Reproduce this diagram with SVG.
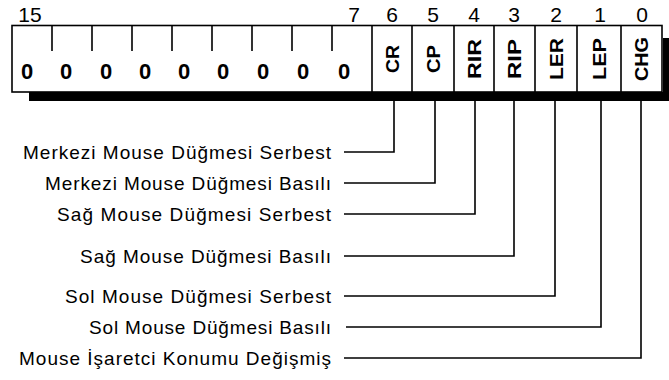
<svg xmlns="http://www.w3.org/2000/svg" width="669" height="380" viewBox="0 0 669 380">
  <style>
    .frame { fill: #fff; stroke: #000; stroke-width: 1.6; }
    .rule { stroke: #000; stroke-width: 1.6; fill: none; }
    .wire { stroke: #000; stroke-width: 1.6; fill: none; }
    .bitno { font-family: "Liberation Sans", Arial, sans-serif; font-size: 21px; fill: #000; text-anchor: middle; }
    .zero { font-family: "Liberation Sans", Arial, sans-serif; font-size: 22px; font-weight: bold; fill: #000; text-anchor: middle; }
    .flag { font-family: "Liberation Sans", Arial, sans-serif; font-size: 18px; font-weight: bold; fill: #000; text-anchor: middle; }
    .label { font-family: "Liberation Sans", Arial, sans-serif; font-size: 19px; fill: #000; text-anchor: end; }
  </style>

  <!-- register body with drop shadow -->
  <g id="register">
    <rect x="29" y="92" width="640" height="9" fill="#000"/>
    <rect x="663" y="38" width="6" height="63" fill="#000"/>
    <rect class="frame" x="12" y="25.5" width="650" height="66.5"/>
    <!-- bit ticks for the unused high bits -->
    <path class="rule" d="M52 25.5V51M92 25.5V51M132 25.5V51M172 25.5V51M212 25.5V51M252 25.5V51M292 25.5V51M332 25.5V51"/>
    <!-- flag cell dividers -->
    <path class="rule" d="M372 25.5V92M412 25.5V92M454 25.5V92M494 25.5V92M535 25.5V92M577 25.5V92M621 25.5V92"/>
  </g>

  <!-- bit numbers -->
  <g id="bit-numbers">
    <text class="bitno" x="30" y="22">15</text>
    <text class="bitno" x="354" y="22">7</text>
    <text class="bitno" x="392" y="22">6</text>
    <text class="bitno" x="433" y="22">5</text>
    <text class="bitno" x="474" y="22">4</text>
    <text class="bitno" x="514" y="22">3</text>
    <text class="bitno" x="556" y="22">2</text>
    <text class="bitno" x="600" y="22">1</text>
    <text class="bitno" x="642" y="22">0</text>
  </g>

  <!-- reserved bits, always zero -->
  <g id="reserved-bits">
    <text class="zero" x="27" y="79">0</text>
    <text class="zero" x="66" y="79">0</text>
    <text class="zero" x="106" y="79">0</text>
    <text class="zero" x="145" y="79">0</text>
    <text class="zero" x="184" y="79">0</text>
    <text class="zero" x="223" y="79">0</text>
    <text class="zero" x="263" y="79">0</text>
    <text class="zero" x="303" y="79">0</text>
    <text class="zero" x="344" y="79">0</text>
  </g>

  <!-- flag cells, names written bottom to top -->
  <g id="flag-CR"><text class="flag" transform="translate(398.5 59) rotate(-90)" textLength="28" lengthAdjust="spacingAndGlyphs">CR</text></g>
  <g id="flag-CP"><text class="flag" transform="translate(439.5 59) rotate(-90)" textLength="28" lengthAdjust="spacingAndGlyphs">CP</text></g>
  <g id="flag-RIR"><text class="flag" transform="translate(480.5 59) rotate(-90)" textLength="40" lengthAdjust="spacingAndGlyphs">RIR</text></g>
  <g id="flag-RIP"><text class="flag" transform="translate(521 59) rotate(-90)" textLength="40" lengthAdjust="spacingAndGlyphs">RIP</text></g>
  <g id="flag-LER"><text class="flag" transform="translate(562.5 59) rotate(-90)" textLength="42" lengthAdjust="spacingAndGlyphs">LER</text></g>
  <g id="flag-LEP"><text class="flag" transform="translate(605.5 59) rotate(-90)" textLength="42" lengthAdjust="spacingAndGlyphs">LEP</text></g>
  <g id="flag-CHG"><text class="flag" transform="translate(648 59) rotate(-90)" textLength="44" lengthAdjust="spacingAndGlyphs">CHG</text></g>

  <!-- leader lines from each flag to its description -->
  <g id="connectors">
    <path class="wire" d="M394 101V152H344"/>
    <path class="wire" d="M435 101V183H344"/>
    <path class="wire" d="M475 101V214H344"/>
    <path class="wire" d="M514 101V256H344"/>
    <path class="wire" d="M555 101V296H344"/>
    <path class="wire" d="M601 101V327H346"/>
    <path class="wire" d="M641 101V358H344"/>
  </g>

  <!-- descriptions -->
  <g id="descriptions">
    <text class="label" x="331" y="158.5" textLength="308" lengthAdjust="spacing">Merkezi Mouse Düğmesi Serbest</text>
    <text class="label" x="331" y="189.5" textLength="286" lengthAdjust="spacing">Merkezi Mouse Düğmesi Basılı</text>
    <text class="label" x="331" y="220.5" textLength="274" lengthAdjust="spacing">Sağ Mouse Düğmesi Serbest</text>
    <text class="label" x="331" y="262.5" textLength="251" lengthAdjust="spacing">Sağ Mouse Düğmesi Basılı</text>
    <text class="label" x="331" y="302.5" textLength="266" lengthAdjust="spacing">Sol Mouse Düğmesi Serbest</text>
    <text class="label" x="331" y="333.5" textLength="242" lengthAdjust="spacing">Sol Mouse Düğmesi Basılı</text>
    <text class="label" x="331" y="364.5" textLength="312" lengthAdjust="spacing">Mouse İşaretci Konumu Değişmiş</text>
  </g>
</svg>
